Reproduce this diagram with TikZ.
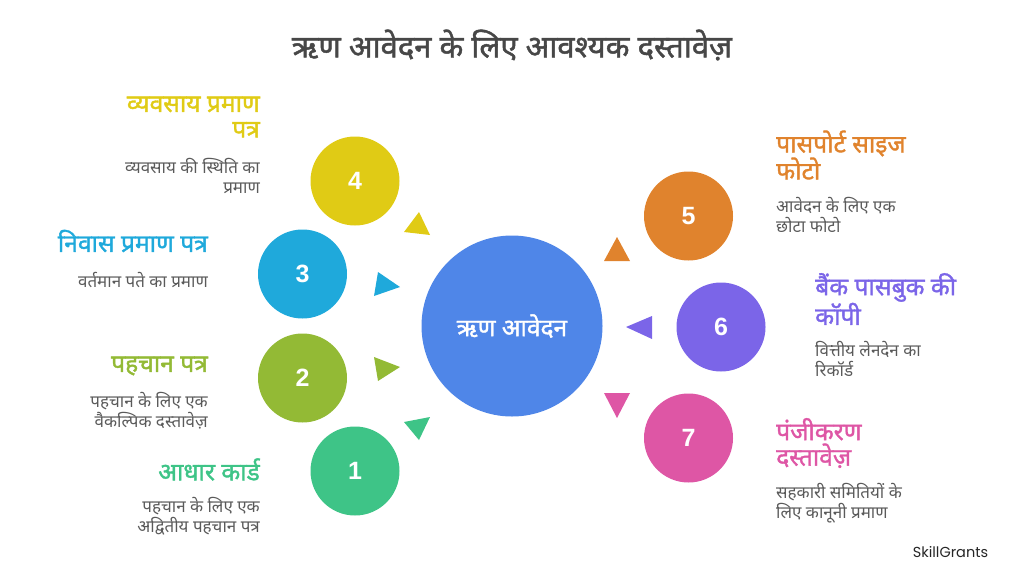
\documentclass[tikz,border=0pt]{standalone}
\usepackage{fontspec}
\setmainfont{Noto Sans}[Script=Devanagari]
\newfontfamily\headfont{Noto Sans}[Script=Devanagari,FakeBold=1.4]
\newfontfamily\digitfont{Liberation Sans}
\newfontfamily\brandfont{Poppins}
\definecolor{colA}{HTML}{3EC487}
\definecolor{colB}{HTML}{93BA35}
\definecolor{colC}{HTML}{1FA9DB}
\definecolor{colD}{HTML}{E0CB15}
\definecolor{colE}{HTML}{E0832D}
\definecolor{colF}{HTML}{7B65E8}
\definecolor{colG}{HTML}{DE56A5}
\definecolor{colH}{HTML}{4F86E8}
\definecolor{txtgrey}{HTML}{5A5A5A}
\tikzset{
  numcirc/.style={circle,minimum size=89pt,inner sep=0pt,text=white,font=\fontsize{25}{25}\digitfont\bfseries},
  headl/.style={anchor=east,align=right,inner sep=0pt,font=\fontsize{24.6}{25.5}\headfont},
  headr/.style={anchor=west,align=left,inner sep=0pt,font=\fontsize{24.6}{25.5}\headfont},
  descl/.style={anchor=east,align=right,inner sep=0pt,text=txtgrey,font=\fontsize{17}{20}\selectfont},
  descr/.style={anchor=west,align=left,inner sep=0pt,text=txtgrey,font=\fontsize{17}{20}\selectfont}
}
\begin{document}
\begin{tikzpicture}[x=1pt,y=-1pt]
\useasboundingbox (0,0) rectangle (1024,576);
\node (title) at (512,45) [text=black!72,font=\fontsize{31}{31}\headfont] {ऋण आवेदन के लिए आवश्यक दस्तावेज़};
% centre
\node (main) at (512,326) [circle,minimum size=181pt,inner sep=0pt,fill=colH,text=white,font=\fontsize{24.5}{24.5}\headfont] {ऋण आवेदन};
% left side
\node (circ1) at (355,471) [numcirc,fill=colA] {1};
\node (circ2) at (302.5,378) [numcirc,fill=colB] {2};
\node (circ3) at (302.5,274) [numcirc,fill=colC] {3};
\node (circ4) at (355,181) [numcirc,fill=colD] {4};
\fill [colA] (404,422) -- (430,417) -- (419,440);
\fill [colB] (374,357) -- (400,367) -- (378,381);
\fill [colC] (378,272) -- (400,287) -- (374,296);
\fill [colD] (419,212) -- (404,232) -- (430,235);
\node (head1) at (260,469.5) [headl,text=colA] {आधार कार्ड};
\node (desc1) at (260,516) [descl] {पहचान के लिए एक\\अद्वितीय पहचान पत्र};
\node (head2) at (208,366) [headl,text=colB] {पहचान पत्र};
\node (desc2) at (208,411) [descl] {पहचान के लिए एक\\वैकल्पिक दस्तावेज़};
\node (head3) at (208,241) [headl,text=colC] {निवास प्रमाण पत्र};
\node (desc3) at (208,280) [descl] {वर्तमान पते का प्रमाण};
\node (head4) at (260,117) [headl,text=colD] {व्यवसाय प्रमाण\\पत्र};
\node (desc4) at (260,176) [descl] {व्यवसाय की स्थिति का\\प्रमाण};
% right side
\node (circ5) at (688.5,216) [numcirc,fill=colE] {5};
\node (circ6) at (721,327) [numcirc,fill=colF] {6};
\node (circ7) at (688.5,438) [numcirc,fill=colG] {7};
\fill [colE] (617,237) -- (604,261) -- (630,261);
\fill [colF] (626,327) -- (652,316) -- (652,339);
\fill [colG] (604,393) -- (630,393) -- (617,418);
\node (head5) at (776,155) [headr,text=colE] {पासपोर्ट साइज\\फोटो};
\node (desc5) at (776,215) [descr] {आवेदन के लिए एक\\छोटा फोटो};
\node (head6) at (815,299) [headr,text=colF] {बैंक पासबुक की\\कॉपी};
\node (desc6) at (815,359) [descr] {वित्तीय लेनदेन का\\रिकॉर्ड};
\node (head7) at (776,443) [headr,text=colG] {पंजीकरण\\दस्तावेज़};
\node (desc7) at (776,503) [descr] {सहकारी समितियों के\\लिए कानूनी प्रमाण};
\node (brand) at (950.5,552) [text=black!85,font=\fontsize{14.5}{14.5}\brandfont] {SkillGrants};
\end{tikzpicture}
\end{document}
